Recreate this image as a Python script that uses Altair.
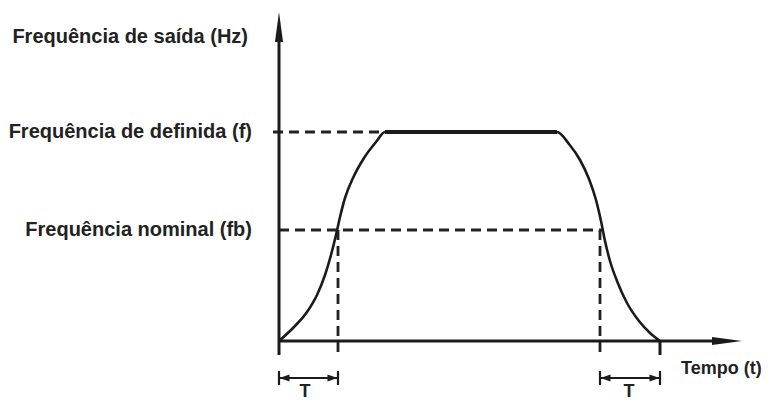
import altair as alt
import pandas as pd

# ---- values (arbitrary units: time t, frequency f) ----
t_rise = [0, 15, 28, 38, 46, 52, 57, 61, 66, 74, 85, 97, 106]
f_rise = [0, 14, 29, 46, 66, 86, 106, 124, 143, 163, 183, 199, 209]
t_flat = [106, 278]
t_fall = [278, 290, 301, 310, 317, 322, 326, 331, 338, 348, 360, 371, 381]
f_fall = [209, 197, 181, 162, 141, 120, 100, 80, 60, 38, 20, 8, 0]

f_set = 209      # Frequência de definida (f)
f_nom = 111      # Frequência nominal (fb)
t_up = 59        # time where rising curve reaches fb
t_down = 321     # time where falling curve reaches fb
t_end = 381      # end of deceleration
t_axis = 435     # length of time axis (arrow base)
f_axis = 300     # length of frequency axis (arrow base)

y_label_text = ["Frequência de saída (Hz)", "Frequência de definida (f)", "Frequência nominal (fb)"]
y_label_f = [304, f_set, f_nom]
y_label_t = [-31, -27, -27]

x_label_text = ["Tempo (t)"]
period_text = ["T", "T"]
period_t = [26, 350]

# ---- scales: 1 unit = 1 px ----
W, H = 757, 393
xs = alt.Scale(domain=[-271, -271 + W], nice=False, zero=False)
ys = alt.Scale(domain=[341 - 8 - H, 333], nice=False, zero=False)
X = lambda f: alt.X(f, type="quantitative", scale=xs, axis=None)
Y = lambda f: alt.Y(f, type="quantitative", scale=ys, axis=None)

INK = "#1b1b1b"

# curve
curve_df = pd.DataFrame({
    "t": t_rise + t_fall,
    "f": f_rise + f_fall,
    "o": list(range(len(t_rise) + len(t_fall))),
})
curve = alt.Chart(curve_df).mark_line(color=INK, strokeWidth=2.6, interpolate="monotone").encode(
    x=X("t"), y=Y("f"), order="o:Q")

flat_df = pd.DataFrame({"t": t_flat, "f": [f_set, f_set]})
flat = alt.Chart(flat_df).mark_line(color=INK, strokeWidth=4.2).encode(x=X("t"), y=Y("f"))

# dashed guide lines
dash_df = pd.DataFrame({
    "x1": [-6, 0, t_up, t_down],
    "x2": [t_rise[-1], 324, t_up, t_down],
    "y1": [f_set, f_nom, f_nom, f_nom],
    "y2": [f_set, f_nom, -17, -17],
})
dashes = alt.Chart(dash_df).mark_rule(color="#222222", strokeWidth=2.8, strokeDash=[10, 6]).encode(
    x=X("x1"), x2="x2", y=Y("y1"), y2="y2")

# solid axes and ticks
solid_df = pd.DataFrame({
    "x1": [0, 0, t_end],
    "x2": [0, t_axis, t_end],
    "y1": [-14, 0, 0],
    "y2": [f_axis, 0, -14],
})
solids = alt.Chart(solid_df).mark_rule(color=INK, strokeWidth=3).encode(
    x=X("x1"), x2="x2", y=Y("y1"), y2="y2")

# axis arrowheads
yarrow = alt.Chart(pd.DataFrame({"t": [0], "f": [f_axis + 14]})).mark_point(
    shape="M0,-1L0.27,1L-0.27,1Z", size=900, filled=True, opacity=1, color=INK
).encode(x=X("t"), y=Y("f"))
xarrow = alt.Chart(pd.DataFrame({"t": [t_axis + 13], "f": [0]})).mark_point(
    shape="M1,0L-1,-0.27L-1,0.27Z", size=900, filled=True, opacity=1, color=INK
).encode(x=X("t"), y=Y("f"))

# period dimension lines
dim_y = -37
dim_df = pd.DataFrame({
    "x1": [0, t_down, 0, t_up, t_down, t_end],
    "x2": [t_up, t_end, 0, t_up, t_down, t_end],
    "y1": [dim_y, dim_y, dim_y - 7, dim_y - 7, dim_y - 7, dim_y - 7],
    "y2": [dim_y, dim_y, dim_y + 7, dim_y + 7, dim_y + 7, dim_y + 7],
})
dims = alt.Chart(dim_df).mark_rule(color=INK, strokeWidth=2.2).encode(
    x=X("x1"), x2="x2", y=Y("y1"), y2="y2")

left_heads = alt.Chart(pd.DataFrame({"t": [5.5, t_down + 5.5], "f": [dim_y, dim_y]})).mark_point(
    shape="M-1,0L1,-0.7L1,0.7Z", size=100, filled=True, opacity=1, color=INK
).encode(x=X("t"), y=Y("f"))
right_heads = alt.Chart(pd.DataFrame({"t": [t_up - 5.5, t_end - 5.5], "f": [dim_y, dim_y]})).mark_point(
    shape="M1,0L-1,-0.7L-1,0.7Z", size=100, filled=True, opacity=1, color=INK
).encode(x=X("t"), y=Y("f"))

# texts
font = "Liberation Sans"
ylab = alt.Chart(pd.DataFrame({"t": y_label_t, "f": y_label_f, "s": y_label_text})).mark_text(
    align="right", baseline="middle", font=font, fontWeight="bold", fontSize=20, color="#222222"
).encode(x=X("t"), y=Y("f"), text="s:N")
xlab = alt.Chart(pd.DataFrame({"t": [402], "f": [-27.5], "s": x_label_text})).mark_text(
    align="left", baseline="middle", font=font, fontWeight="bold", fontSize=18, color="#222222"
).encode(x=X("t"), y=Y("f"), text="s:N")
tlab = alt.Chart(pd.DataFrame({"t": period_t, "f": [-50.5, -50.5], "s": period_text})).mark_text(
    align="center", baseline="middle", font=font, fontWeight="bold", fontSize=18, color="#222222"
).encode(x=X("t"), y=Y("f"), text="s:N")

chart = alt.layer(
    dashes, solids, dims, curve, flat, yarrow, xarrow, left_heads, right_heads, ylab, xlab, tlab
).properties(
    width=W, height=H, autosize=alt.AutoSizeParams(type="none"), padding=0
).configure_view(stroke=None)

chart.save("out.html", embed_options={"renderer": "svg", "actions": False})
